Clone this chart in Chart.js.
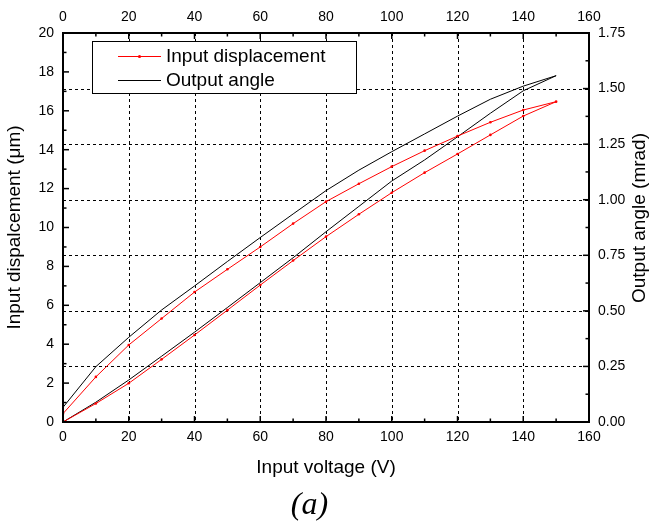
<!DOCTYPE html>
<html>
<head>
<meta charset="utf-8">
<script src="https://cdn.jsdelivr.net/npm/chart.js@4/dist/chart.umd.min.js"></script>
<style>
html,body{margin:0;padding:0;background:#fff;}
#wrap{width:654px;height:522px;position:relative;}
</style>
</head>
<body>
<div id="wrap"><canvas id="c" width="654" height="522"></canvas></div>
<script>
// Input voltage (V): loading 0 -> 150, then unloading 150 -> 0
const voltage = [0,10,20,30,40,50,60,70,80,90,100,110,120,130,140,150,
                 140,130,120,110,100,90,80,70,60,50,40,30,20,10,0];
// Input displacement (µm), left axis
const inputDisplacement = [0,0.95,1.99,3.22,4.47,5.75,7.04,8.3,9.53,10.68,11.79,12.82,13.78,14.76,15.73,16.47,
                           16.04,15.41,14.7,13.95,13.13,12.25,11.33,10.2,9.0,7.85,6.68,5.32,3.96,2.32,0.43];
// Output angle (mrad), right axis
const outputAngle = [0,0.089,0.189,0.296,0.404,0.515,0.627,0.739,0.856,0.97,1.084,1.179,1.283,1.389,1.49,1.558,
                     1.511,1.452,1.376,1.296,1.216,1.133,1.041,0.936,0.83,0.722,0.612,0.504,0.381,0.249,0.066];
const xTicks = [0,20,40,60,80,100,120,140,160];
const leftTicks = [0,2,4,6,8,10,12,14,16,18,20];
const rightTicks = [0,0.25,0.5,0.75,1.0,1.25,1.5,1.75];
const seriesLabels = ['Input displacement','Output angle'];

const SANS = "'Liberation Sans', Arial, sans-serif";
const tickFont = {family: SANS, size: 14};
const titleFont = {family: SANS, size: 19};

const framePlugin = {
  id: 'frame',
  beforeDatasetsDraw(chart) {
    const {ctx, chartArea: a, scales} = chart;
    ctx.save();
    ctx.strokeStyle = '#000';
    ctx.lineWidth = 1;
    ctx.setLineDash([3,3]);
    xTicks.forEach(v => {
      if (v <= 0 || v >= 160) return;
      const px = Math.round(scales.x.getPixelForValue(v)) + 0.5;
      ctx.beginPath(); ctx.moveTo(px, a.top); ctx.lineTo(px, a.bottom); ctx.stroke();
    });
    rightTicks.forEach(v => {
      if (v <= 0 || v >= 1.75) return;
      const py = Math.round(scales.y1.getPixelForValue(v)) + 0.5;
      ctx.beginPath(); ctx.moveTo(a.left, py); ctx.lineTo(a.right, py); ctx.stroke();
    });
    ctx.restore();
  },
  afterDatasetsDraw(chart) {
    const {ctx, chartArea: a, scales, data} = chart;
    ctx.save();
    ctx.setLineDash([]);
    ctx.strokeStyle = '#000';
    // ticks
    ctx.lineWidth = 1.5;
    const maj = 6, min = 3.5;
    for (let i = 0; i < xTicks.length; i++) {
      const v = xTicks[i];
      [v, v + 10].forEach((t, k) => {
        if (t > 160) return;
        const px = scales.x.getPixelForValue(t);
        const L = k === 0 ? maj : min;
        ctx.beginPath(); ctx.moveTo(px, a.bottom); ctx.lineTo(px, a.bottom - L); ctx.stroke();
        ctx.beginPath(); ctx.moveTo(px, a.top); ctx.lineTo(px, a.top + L); ctx.stroke();
      });
    }
    leftTicks.forEach(v => {
      [v, v + 1].forEach((t, k) => {
        if (t > 20) return;
        const py = scales.y.getPixelForValue(t);
        const L = k === 0 ? maj : min;
        ctx.beginPath(); ctx.moveTo(a.left, py); ctx.lineTo(a.left + L, py); ctx.stroke();
      });
    });
    rightTicks.forEach(v => {
      [v, v + 0.125].forEach((t, k) => {
        if (t > 1.75) return;
        const py = scales.y1.getPixelForValue(t);
        const L = k === 0 ? maj : min;
        ctx.beginPath(); ctx.moveTo(a.right, py); ctx.lineTo(a.right - L, py); ctx.stroke();
      });
    });
    // frame
    ctx.lineWidth = 2;
    ctx.strokeRect(a.left, a.top, a.right - a.left, a.bottom - a.top);

    // legend
    const bx = 92.5, by = 41.5, bw = 264, bh = 52;
    ctx.fillStyle = '#fff';
    ctx.fillRect(bx, by, bw, bh);
    ctx.lineWidth = 1;
    ctx.strokeRect(bx, by, bw, bh);
    const rows = [56, 80];
    data.datasets.forEach((ds, i) => {
      const y = rows[i];
      ctx.strokeStyle = ds.borderColor;
      ctx.lineWidth = 1;
      ctx.beginPath(); ctx.moveTo(118, y + 0.5); ctx.lineTo(161, y + 0.5); ctx.stroke();
      if (ds.pointRadius > 0) {
        ctx.fillStyle = ds.borderColor;
        ctx.beginPath(); ctx.arc(139.5, y + 0.5, 1.6, 0, Math.PI * 2); ctx.fill();
      }
      ctx.fillStyle = '#000';
      ctx.font = "19px " + SANS;
      ctx.textAlign = 'left';
      ctx.textBaseline = 'middle';
      ctx.fillText(ds.label, 166, y + 1);
    });

    // right axis title (reads bottom to top)
    ctx.save();
    ctx.translate(639.5, 218);
    ctx.rotate(-Math.PI / 2);
    ctx.fillStyle = '#000';
    ctx.font = "19px " + SANS;
    ctx.textAlign = 'center';
    ctx.textBaseline = 'middle';
    ctx.fillText('Output angle (mrad)', 0, 0);
    ctx.restore();

    // panel label
    ctx.fillStyle = '#000';
    ctx.font = "italic 32px 'Liberation Serif', 'Times New Roman', serif";
    ctx.textAlign = 'center';
    ctx.textBaseline = 'middle';
    ctx.fillText('(a)', 309.5, 506);
    ctx.restore();
  }
};

const mkPts = (ys) => voltage.map((x, i) => ({x, y: ys[i]}));

new Chart(document.getElementById('c'), {
  type: 'scatter',
  data: {
    datasets: [
      {
        label: seriesLabels[0],
        data: mkPts(inputDisplacement),
        showLine: true,
        borderColor: '#ff0000',
        backgroundColor: '#ff0000',
        borderWidth: 1,
        pointRadius: 1.3,
        pointBorderWidth: 0,
        pointHoverRadius: 1.3,
        tension: 0,
        yAxisID: 'y',
        xAxisID: 'x'
      },
      {
        label: seriesLabels[1],
        data: mkPts(outputAngle),
        showLine: true,
        borderColor: '#000000',
        backgroundColor: '#000000',
        borderWidth: 1,
        pointRadius: 0,
        pointHoverRadius: 0,
        tension: 0,
        yAxisID: 'y1',
        xAxisID: 'x'
      }
    ]
  },
  options: {
    responsive: false,
    animation: false,
    devicePixelRatio: 1,
    layout: {padding: 0},
    plugins: {legend: {display: false}, tooltip: {enabled: false}, title: {display: false}},
    scales: {
      x: {
        type: 'linear', position: 'bottom', min: 0, max: 160,
        afterBuildTicks(s) { s.ticks = xTicks.map(v => ({value: v})); },
        ticks: {font: tickFont, color: '#000', padding: 7, maxRotation: 0, autoSkip: false},
        grid: {display: false, drawTicks: false},
        border: {display: false},
        title: {display: true, text: 'Input voltage (V)', font: titleFont, color: '#000', padding: {top: 0, bottom: 43}},
        afterFit(s) { s.height = 100; }
      },
      x2: {
        type: 'linear', position: 'top', min: 0, max: 160,
        afterBuildTicks(s) { s.ticks = xTicks.map(v => ({value: v})); },
        ticks: {font: tickFont, color: '#000', padding: 7, maxRotation: 0, autoSkip: false},
        grid: {display: false, drawTicks: false},
        border: {display: false},
        afterFit(s) { s.height = 33; }
      },
      y: {
        type: 'linear', position: 'left', min: 0, max: 20,
        afterBuildTicks(s) { s.ticks = leftTicks.map(v => ({value: v})); },
        ticks: {font: tickFont, color: '#000', padding: 9, autoSkip: false},
        grid: {display: false, drawTicks: false},
        border: {display: false},
        title: {display: true, text: 'Input dispalcement (\u03BCm)', font: titleFont, color: '#000', padding: {top: 3, bottom: 0}},
        afterFit(s) { s.width = 63; }
      },
      y1: {
        type: 'linear', position: 'right', min: 0, max: 1.75,
        afterBuildTicks(s) { s.ticks = rightTicks.map(v => ({value: v})); },
        ticks: {font: tickFont, color: '#000', padding: 9, autoSkip: false, callback: v => Number(v).toFixed(2)},
        grid: {display: false, drawTicks: false},
        border: {display: false},
        afterFit(s) { s.width = 65; }
      }
    }
  },
  plugins: [framePlugin]
});
</script>
</body>
</html>
